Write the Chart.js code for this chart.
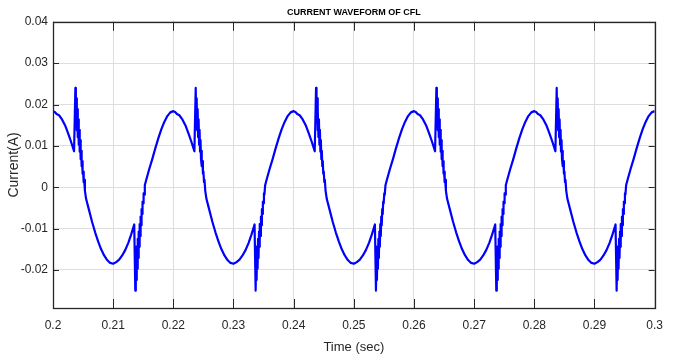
<!DOCTYPE html>
<html>
<head>
<meta charset="utf-8">
<script src="https://cdn.jsdelivr.net/npm/chart.js@4.4.1/dist/chart.umd.min.js"></script>
<style>
  body { margin: 0; background: #fff; }
  canvas { display: block; }
</style>
</head>
<body>
<canvas id="myChart" width="673" height="358"></canvas>
<script>
// [time (s), current (A)], one array per 50 Hz cycle
const cycle1 = [
  [0.2000,0.0184],[0.2003,0.0182],[0.2006,0.0177],[0.2010,0.0174],[0.2015,0.0164],[0.2020,0.0150],[0.2025,0.0131],[0.2030,0.0110],[0.2035,0.0087],
  [0.20372,0.0240],[0.20380,0.0156],[0.20388,0.0215],[0.20396,0.0138],[0.20404,0.0189],[0.20412,0.0121],[0.20420,0.0164],[0.20428,0.0103],[0.20436,0.0139],[0.20444,0.0086],[0.20452,0.0114],[0.20460,0.0068],[0.20468,0.0088],[0.20476,0.0051],[0.20484,0.0063],[0.20492,0.0033],[0.20500,0.0038],[0.20510,0.0012],[0.20518,0.0018],[0.20530,-0.0008],
  [0.2055,-0.0028],[0.2060,-0.0056],[0.2065,-0.0084],[0.2070,-0.0109],[0.2075,-0.0131],[0.2080,-0.0150],[0.2085,-0.0165],[0.2090,-0.0176],[0.2095,-0.0183],[0.2100,-0.0185],
  [0.2105,-0.0181],[0.2110,-0.0175],[0.2115,-0.0165],[0.2120,-0.0152],[0.2125,-0.0135],[0.2130,-0.0114],[0.2135,-0.0090],
  [0.21368,-0.0250],[0.21376,-0.0161],[0.21384,-0.0224],[0.21392,-0.0143],[0.21400,-0.0197],[0.21408,-0.0125],[0.21416,-0.0171],[0.21424,-0.0107],[0.21432,-0.0144],[0.21440,-0.0089],[0.21448,-0.0118],[0.21456,-0.0071],[0.21464,-0.0092],[0.21472,-0.0053],[0.21480,-0.0065],[0.21488,-0.0035],[0.21496,-0.0039],[0.21506,-0.0015],[0.21514,-0.0018],[0.21526,0.0005],
  [0.2155,0.0018],[0.2160,0.0044],[0.2165,0.0068],[0.2170,0.0094],[0.2175,0.0118],[0.2180,0.0140],[0.2185,0.0158],[0.2190,0.0172],[0.2195,0.0181]
];
const cycle2 = [
  [0.2200,0.0184],[0.2203,0.0182],[0.2206,0.0177],[0.2210,0.0174],[0.2215,0.0164],[0.2220,0.0150],[0.2225,0.0131],[0.2230,0.0110],[0.2235,0.0087],
  [0.22372,0.0240],[0.22380,0.0156],[0.22388,0.0215],[0.22396,0.0138],[0.22404,0.0189],[0.22412,0.0121],[0.22420,0.0164],[0.22428,0.0103],[0.22436,0.0139],[0.22444,0.0086],[0.22452,0.0114],[0.22460,0.0068],[0.22468,0.0088],[0.22476,0.0051],[0.22484,0.0063],[0.22492,0.0033],[0.22500,0.0038],[0.22510,0.0012],[0.22518,0.0018],[0.22530,-0.0008],
  [0.2255,-0.0028],[0.2260,-0.0056],[0.2265,-0.0084],[0.2270,-0.0109],[0.2275,-0.0131],[0.2280,-0.0150],[0.2285,-0.0165],[0.2290,-0.0176],[0.2295,-0.0183],[0.2300,-0.0185],
  [0.2305,-0.0181],[0.2310,-0.0175],[0.2315,-0.0165],[0.2320,-0.0152],[0.2325,-0.0135],[0.2330,-0.0114],[0.2335,-0.0090],
  [0.23368,-0.0250],[0.23376,-0.0161],[0.23384,-0.0224],[0.23392,-0.0143],[0.23400,-0.0197],[0.23408,-0.0125],[0.23416,-0.0171],[0.23424,-0.0107],[0.23432,-0.0144],[0.23440,-0.0089],[0.23448,-0.0118],[0.23456,-0.0071],[0.23464,-0.0092],[0.23472,-0.0053],[0.23480,-0.0065],[0.23488,-0.0035],[0.23496,-0.0039],[0.23506,-0.0015],[0.23514,-0.0018],[0.23526,0.0005],
  [0.2355,0.0018],[0.2360,0.0044],[0.2365,0.0068],[0.2370,0.0094],[0.2375,0.0118],[0.2380,0.0140],[0.2385,0.0158],[0.2390,0.0172],[0.2395,0.0181]
];
const cycle3 = [
  [0.2400,0.0184],[0.2403,0.0182],[0.2406,0.0177],[0.2410,0.0174],[0.2415,0.0164],[0.2420,0.0150],[0.2425,0.0131],[0.2430,0.0110],[0.2435,0.0087],
  [0.24372,0.0240],[0.24380,0.0156],[0.24388,0.0215],[0.24396,0.0138],[0.24404,0.0189],[0.24412,0.0121],[0.24420,0.0164],[0.24428,0.0103],[0.24436,0.0139],[0.24444,0.0086],[0.24452,0.0114],[0.24460,0.0068],[0.24468,0.0088],[0.24476,0.0051],[0.24484,0.0063],[0.24492,0.0033],[0.24500,0.0038],[0.24510,0.0012],[0.24518,0.0018],[0.24530,-0.0008],
  [0.2455,-0.0028],[0.2460,-0.0056],[0.2465,-0.0084],[0.2470,-0.0109],[0.2475,-0.0131],[0.2480,-0.0150],[0.2485,-0.0165],[0.2490,-0.0176],[0.2495,-0.0183],[0.2500,-0.0185],
  [0.2505,-0.0181],[0.2510,-0.0175],[0.2515,-0.0165],[0.2520,-0.0152],[0.2525,-0.0135],[0.2530,-0.0114],[0.2535,-0.0090],
  [0.25368,-0.0250],[0.25376,-0.0161],[0.25384,-0.0224],[0.25392,-0.0143],[0.25400,-0.0197],[0.25408,-0.0125],[0.25416,-0.0171],[0.25424,-0.0107],[0.25432,-0.0144],[0.25440,-0.0089],[0.25448,-0.0118],[0.25456,-0.0071],[0.25464,-0.0092],[0.25472,-0.0053],[0.25480,-0.0065],[0.25488,-0.0035],[0.25496,-0.0039],[0.25506,-0.0015],[0.25514,-0.0018],[0.25526,0.0005],
  [0.2555,0.0018],[0.2560,0.0044],[0.2565,0.0068],[0.2570,0.0094],[0.2575,0.0118],[0.2580,0.0140],[0.2585,0.0158],[0.2590,0.0172],[0.2595,0.0181]
];
const cycle4 = [
  [0.2600,0.0184],[0.2603,0.0182],[0.2606,0.0177],[0.2610,0.0174],[0.2615,0.0164],[0.2620,0.0150],[0.2625,0.0131],[0.2630,0.0110],[0.2635,0.0087],
  [0.26372,0.0240],[0.26380,0.0156],[0.26388,0.0215],[0.26396,0.0138],[0.26404,0.0189],[0.26412,0.0121],[0.26420,0.0164],[0.26428,0.0103],[0.26436,0.0139],[0.26444,0.0086],[0.26452,0.0114],[0.26460,0.0068],[0.26468,0.0088],[0.26476,0.0051],[0.26484,0.0063],[0.26492,0.0033],[0.26500,0.0038],[0.26510,0.0012],[0.26518,0.0018],[0.26530,-0.0008],
  [0.2655,-0.0028],[0.2660,-0.0056],[0.2665,-0.0084],[0.2670,-0.0109],[0.2675,-0.0131],[0.2680,-0.0150],[0.2685,-0.0165],[0.2690,-0.0176],[0.2695,-0.0183],[0.2700,-0.0185],
  [0.2705,-0.0181],[0.2710,-0.0175],[0.2715,-0.0165],[0.2720,-0.0152],[0.2725,-0.0135],[0.2730,-0.0114],[0.2735,-0.0090],
  [0.27368,-0.0250],[0.27376,-0.0161],[0.27384,-0.0224],[0.27392,-0.0143],[0.27400,-0.0197],[0.27408,-0.0125],[0.27416,-0.0171],[0.27424,-0.0107],[0.27432,-0.0144],[0.27440,-0.0089],[0.27448,-0.0118],[0.27456,-0.0071],[0.27464,-0.0092],[0.27472,-0.0053],[0.27480,-0.0065],[0.27488,-0.0035],[0.27496,-0.0039],[0.27506,-0.0015],[0.27514,-0.0018],[0.27526,0.0005],
  [0.2755,0.0018],[0.2760,0.0044],[0.2765,0.0068],[0.2770,0.0094],[0.2775,0.0118],[0.2780,0.0140],[0.2785,0.0158],[0.2790,0.0172],[0.2795,0.0181]
];
const cycle5 = [
  [0.2800,0.0184],[0.2803,0.0182],[0.2806,0.0177],[0.2810,0.0174],[0.2815,0.0164],[0.2820,0.0150],[0.2825,0.0131],[0.2830,0.0110],[0.2835,0.0087],
  [0.28372,0.0240],[0.28380,0.0156],[0.28388,0.0215],[0.28396,0.0138],[0.28404,0.0189],[0.28412,0.0121],[0.28420,0.0164],[0.28428,0.0103],[0.28436,0.0139],[0.28444,0.0086],[0.28452,0.0114],[0.28460,0.0068],[0.28468,0.0088],[0.28476,0.0051],[0.28484,0.0063],[0.28492,0.0033],[0.28500,0.0038],[0.28510,0.0012],[0.28518,0.0018],[0.28530,-0.0008],
  [0.2855,-0.0028],[0.2860,-0.0056],[0.2865,-0.0084],[0.2870,-0.0109],[0.2875,-0.0131],[0.2880,-0.0150],[0.2885,-0.0165],[0.2890,-0.0176],[0.2895,-0.0183],[0.2900,-0.0185],
  [0.2905,-0.0181],[0.2910,-0.0175],[0.2915,-0.0165],[0.2920,-0.0152],[0.2925,-0.0135],[0.2930,-0.0114],[0.2935,-0.0090],
  [0.29368,-0.0250],[0.29376,-0.0161],[0.29384,-0.0224],[0.29392,-0.0143],[0.29400,-0.0197],[0.29408,-0.0125],[0.29416,-0.0171],[0.29424,-0.0107],[0.29432,-0.0144],[0.29440,-0.0089],[0.29448,-0.0118],[0.29456,-0.0071],[0.29464,-0.0092],[0.29472,-0.0053],[0.29480,-0.0065],[0.29488,-0.0035],[0.29496,-0.0039],[0.29506,-0.0015],[0.29514,-0.0018],[0.29526,0.0005],
  [0.2955,0.0018],[0.2960,0.0044],[0.2965,0.0068],[0.2970,0.0094],[0.2975,0.0118],[0.2980,0.0140],[0.2985,0.0158],[0.2990,0.0172],[0.2995,0.0181],
  [0.3000,0.0184]
];

const xTicks = [0.2, 0.21, 0.22, 0.23, 0.24, 0.25, 0.26, 0.27, 0.28, 0.29, 0.3];
const xTickLabels = ["0.2", "0.21", "0.22", "0.23", "0.24", "0.25", "0.26", "0.27", "0.28", "0.29", "0.3"];
const yTicks = [-0.02, -0.01, 0, 0.01, 0.02, 0.03, 0.04];
const yTickLabels = ["-0.02", "-0.01", "0", "0.01", "0.02", "0.03", "0.04"];

const FONT = '"Liberation Sans", Arial, sans-serif';
const AXIS_COLOR = "#262626";

// matlab style box with inward tick marks
const boxPlugin = {
  id: "box",
  afterDraw(chart) {
    const { ctx, chartArea: a, scales } = chart;
    ctx.save();
    ctx.strokeStyle = AXIS_COLOR;
    ctx.lineWidth = 1;
    ctx.beginPath();
    xTicks.forEach((v) => {
      const x = Math.round(scales.x.getPixelForValue(v)) + 0.5;
      ctx.moveTo(x, a.bottom);
      ctx.lineTo(x, a.bottom - 9);
      ctx.moveTo(x, a.top);
      ctx.lineTo(x, a.top + 9);
    });
    yTicks.forEach((v) => {
      const y = Math.round(scales.y.getPixelForValue(v)) + 0.5;
      ctx.moveTo(a.left, y);
      ctx.lineTo(a.left + 6, y);
      ctx.moveTo(a.right, y);
      ctx.lineTo(a.right - 6, y);
    });
    ctx.stroke();
    ctx.lineWidth = 1.3;
    ctx.strokeRect(Math.round(a.left) + 0.5, Math.round(a.top) + 0.5,
      Math.round(a.right - a.left), Math.round(a.bottom - a.top));
    ctx.restore();
  },
};

function generateChart() {
  const points = [...cycle1, ...cycle2, ...cycle3, ...cycle4, ...cycle5].map(([t, i]) => ({ x: t, y: i }));

  const config = {
    type: "line",
    data: {
      datasets: [
        {
          data: points,
          borderColor: "#0000ff",
          borderWidth: 2.2,
          borderJoinStyle: "round",
          pointRadius: 0,
          tension: 0,
          fill: false,
        },
      ],
    },
    options: {
      responsive: false,
      animation: false,
      layout: { padding: { left: 0, right: 8, top: 0, bottom: 0 } },
      scales: {
        x: {
          type: "linear",
          min: 0.2,
          max: 0.3,
          afterBuildTicks: (scale) => { scale.ticks = xTicks.map((v) => ({ value: v })); },
          afterFit: (scale) => { scale.height = 50; },
          ticks: {
            padding: 10,
            color: AXIS_COLOR,
            font: { family: FONT, size: 12 },
            maxRotation: 0,
            autoSkip: false,
            callback: (value, index) => xTickLabels[index],
          },
          grid: { color: "#dedede", lineWidth: 1, drawTicks: false },
          border: { display: false },
          title: {
            display: true,
            text: "Time (sec)",
            color: AXIS_COLOR,
            font: { family: FONT, size: 13 },
            padding: { top: 0, bottom: 3 },
          },
        },
        y: {
          min: -0.0292,
          max: 0.04,
          afterBuildTicks: (scale) => { scale.ticks = yTicks.map((v) => ({ value: v })); },
          afterFit: (scale) => { scale.width = 53; },
          ticks: {
            padding: 5,
            color: AXIS_COLOR,
            font: { family: FONT, size: 12 },
            autoSkip: false,
            callback: (value, index) => yTickLabels[index],
          },
          grid: { color: "#dedede", lineWidth: 1, drawTicks: false },
          border: { display: false },
          title: {
            display: true,
            text: "Current(A)",
            color: AXIS_COLOR,
            font: { family: FONT, size: 14 },
            padding: { top: 6, bottom: 0 },
          },
        },
      },
      plugins: {
        legend: { display: false },
        tooltip: { enabled: false },
        title: {
          display: true,
          text: "CURRENT WAVEFORM OF CFL",
          fullSize: false,
          color: "#000",
          font: { family: FONT, size: 9, weight: "bold" },
          padding: { top: 7, bottom: 4 },
        },
      },
    },
    plugins: [boxPlugin],
  };
  new Chart(document.getElementById("myChart"), config);
}
generateChart();
</script>
</body>
</html>
